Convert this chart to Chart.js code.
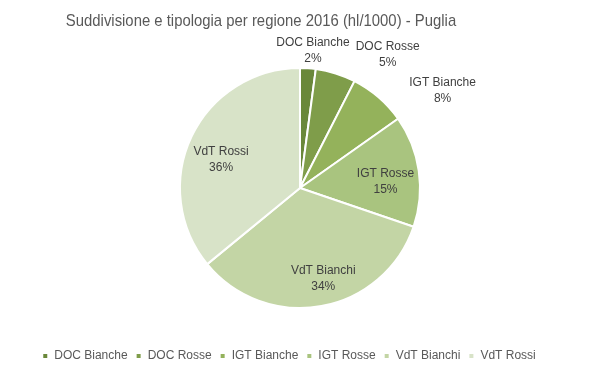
<!DOCTYPE html>
<html><head><meta charset="utf-8">
<script src="https://cdn.jsdelivr.net/npm/chart.js@4/dist/chart.umd.min.js"></script>
<style>html,body{margin:0;padding:0;background:#fff}#wrap{width:600px;height:375px}</style>
</head><body><div id="wrap"><canvas id="c"></canvas></div>
<script>
const categories = ['DOC Bianche','DOC Rosse','IGT Bianche','IGT Rosse','VdT Bianchi','VdT Rossi'];
const values = [2.1, 5.4, 7.7, 15.0, 33.8, 35.9];
const colors = ['#6a883a','#7f9d4a','#94b25b','#a9c47f','#c3d5a5','#d8e3c8'];
const titleText = 'Suddivisione e tipologia per regione 2016 (hl/1000) - Puglia';

// label placement: position = centre + f*radius at mid angle + (dx,dy)
const labelPlace = [
  {f:1, dx:5, dy:-18},
  {f:1, dx:52, dy:-19},
  {f:1, dx:64, dy:-7},
  {f:0.72, dx:0, dy:6},
  {f:0.76, dx:7, dy:1},
  {f:0.7, dx:-3, dy:8}
];
const SANS = "'Liberation Sans', Arial, sans-serif";

const shiftPlugin = {
  id:'shiftArea',
  afterLayout(chart){
    const a = chart.chartArea;
    a.right += 22;
    a.width = a.right - a.left;
  }
};

const titlePlugin = {
  id:'narrowTitle',
  afterDraw(chart){
    const ctx = chart.ctx;
    ctx.save();
    ctx.font = "17px " + SANS;
    ctx.fillStyle = '#595959';
    ctx.textAlign = 'center';
    ctx.textBaseline = 'middle';
    ctx.translate(261, 21);
    ctx.scale(0.875, 1);
    ctx.fillText(titleText, 0, 0);
    ctx.restore();
  }
};

const labelPlugin = {
  id:'sliceLabels',
  afterDatasetsDraw(chart){
    const ctx = chart.ctx;
    const meta = chart.getDatasetMeta(0);
    const total = values.reduce((a,b)=>a+b,0);
    ctx.save();
    ctx.font = "12px " + SANS;
    ctx.fillStyle = '#404040';
    ctx.textAlign = 'center';
    ctx.textBaseline = 'middle';
    meta.data.forEach((arc,i)=>{
      const p = arc.getProps(['x','y','startAngle','endAngle','outerRadius'], true);
      const mid = (p.startAngle+p.endAngle)/2;
      const lp = labelPlace[i];
      const lx = p.x + Math.cos(mid)*p.outerRadius*lp.f + lp.dx;
      const ly = p.y + Math.sin(mid)*p.outerRadius*lp.f + lp.dy;
      const pct = Math.round(values[i]/total*100) + '%';
      ctx.fillText(categories[i], lx, ly-8);
      ctx.fillText(pct, lx, ly+8);
    });
    ctx.restore();
  }
};

new Chart(document.getElementById('c'), {
  type:'pie',
  data:{labels:categories, datasets:[{data:values, backgroundColor:colors, borderColor:'#ffffff', borderWidth:2, radius:120}]},
  options:{
    responsive:true, maintainAspectRatio:false, animation:false,
    layout:{padding:{top:34,bottom:3,left:0,right:22}},
    plugins:{
      title:{display:false},
      legend:{position:'bottom', labels:{color:'#595959', font:{family:SANS, size:12}, boxWidth:6, boxHeight:6, padding:8}},
      tooltip:{enabled:false}
    }
  },
  plugins:[shiftPlugin, labelPlugin, titlePlugin]
});
</script></body></html>
